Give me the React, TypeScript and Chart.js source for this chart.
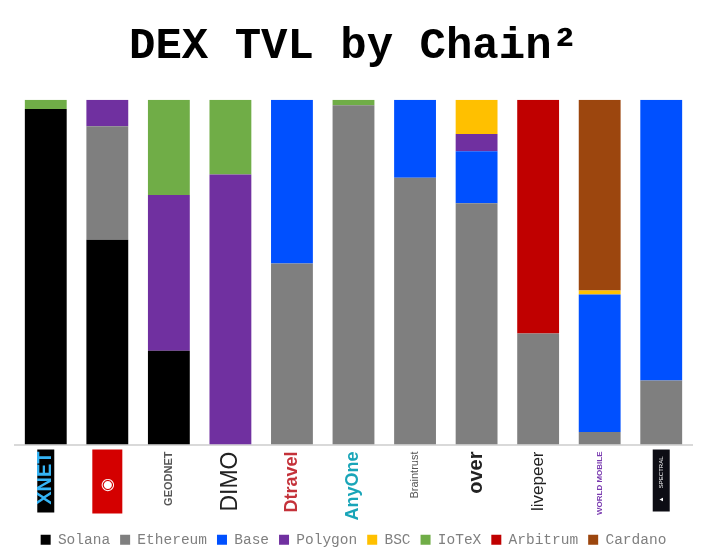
import React, { useEffect, useRef } from "react";
import { Chart, registerables } from "chart.js";

Chart.register(...registerables);

const categories = ["XNET", "◉      ", "GEODNET", "DIMO", "Dtravel", "AnyOne", "Braintrust", "over", "livepeer", "WORLD MOBILE", "▲     SPECTRAL   "];

const solana = [97.3, 59.4, 27.2, 0, 0, 0, 0, 0, 0, 0, 0];
const ethereum = [0, 32.9, 0, 0, 52.5, 98.4, 77.4, 70.0, 32.2, 3.6, 18.6];
const base = [0, 0, 0, 0, 47.5, 0, 22.6, 15.1, 0, 39.9, 81.4];
const polygon = [0, 7.7, 45.2, 78.3, 0, 0, 0, 5.0, 0, 0, 0];
const bsc = [0, 0, 0, 0, 0, 0, 0, 9.9, 0, 1.2, 0];
const iotex = [2.7, 0, 27.6, 21.7, 0, 1.6, 0, 0, 0, 0, 0];
const arbitrum = [0, 0, 0, 0, 0, 0, 0, 0, 67.8, 0, 0];
const cardano = [0, 0, 0, 0, 0, 0, 0, 0, 0, 55.3, 0];

const seriesNames = ["Solana", "Ethereum", "Base", "Polygon", "BSC", "IoTeX", "Arbitrum", "Cardano"];
const seriesColors = ["#000000", "#7f7f7f", "#0050ff", "#7030a0", "#ffc000", "#70ad47", "#c00000", "#9c460e"];
const seriesData = [solana, ethereum, base, polygon, bsc, iotex, arbitrum, cardano];

const labelColors = ["#35b4f5", "#ffffff", "#555555", "#222222", "#c4323a", "#19a5b8", "#555555", "#222222", "#222222", "#7a3bb0", "#ffffff"];
const labelSizes = [20, 16, 11, 23, 18, 18, 11, 20, 17, 8, 6];
const labelWeights = ["bold", "normal", "bold", "normal", "bold", "bold", "normal", "bold", "normal", "bold", "normal"];
const logoBoxColors = ["#000000", "#d40000", "", "", "", "", "", "", "", "", "#0d0d14"];
const logoBoxWidths = [17, 30, 0, 0, 0, 0, 0, 0, 0, 0, 17];
const logoBoxHeights = [63, 64, 0, 0, 0, 0, 0, 0, 0, 0, 62];

const logoBoxPlugin = {
  id: "logoBoxes",
  beforeDraw(chart: any) {
    const scale = chart.scales.x;
    const ctx = chart.ctx;
    ctx.save();
    logoBoxColors.forEach((color, i) => {
      if (!color) return;
      const cx = scale.getPixelForTick(i);
      ctx.fillStyle = color;
      ctx.fillRect(cx - logoBoxWidths[i] / 2, scale.top + 5, logoBoxWidths[i], logoBoxHeights[i]);
    });
    ctx.restore();
  },
};

export default function App() {
  const ref = useRef<HTMLCanvasElement>(null);
  useEffect(() => {
    if (!ref.current) return;
    const chart = new Chart(ref.current, {
      type: "bar",
      data: {
        labels: categories,
        datasets: seriesNames.map((name, i) => ({
          label: name,
          data: seriesData[i],
          backgroundColor: seriesColors[i],
          borderWidth: 0,
          categoryPercentage: 1,
          barPercentage: 0.68,
        })),
      },
      plugins: [logoBoxPlugin],
      options: {
        animation: false,
        responsive: true,
        maintainAspectRatio: false,
        layout: { padding: { left: 15, right: 19, top: 0, bottom: 0 } },
        plugins: {
          title: {
            display: true,
            text: "DEX TVL by Chain²",
            color: "#000000",
            font: { family: "'Liberation Mono', 'Courier New', monospace", size: 44, weight: "bold" },
            padding: { top: 21, bottom: 26 },
          },
          legend: {
            position: "bottom",
            labels: {
              color: "#7f7f7f",
              font: { family: "'Liberation Mono', 'Courier New', monospace", size: 14.5 },
              boxWidth: 10,
              boxHeight: 10,
              padding: 10,
            },
          },
          tooltip: { enabled: false },
        },
        scales: {
          x: {
            stacked: true,
            grid: { display: false, drawTicks: false },
            border: { display: true, color: "#d9d9d9", width: 2 },
            afterFit: (scale: any) => {
              scale.height = 78;
            },
            ticks: {
              autoSkip: false,
              minRotation: 90,
              maxRotation: 90,
              padding: 7,
              color: (ctx: any) => labelColors[ctx.index],
              font: (ctx: any) => ({
                family: "'Liberation Sans', Arial, sans-serif",
                size: labelSizes[ctx.index],
                weight: labelWeights[ctx.index],
              }),
            },
          },
          y: {
            stacked: true,
            display: false,
            min: 0,
            max: 100,
          },
        },
      },
    });
    return () => chart.destroy();
  }, []);
  return (
    <div style={{ position: "fixed", left: 0, top: 0, width: 711, height: 557, background: "#ffffff" }}>
      <canvas ref={ref} />
    </div>
  );
}
